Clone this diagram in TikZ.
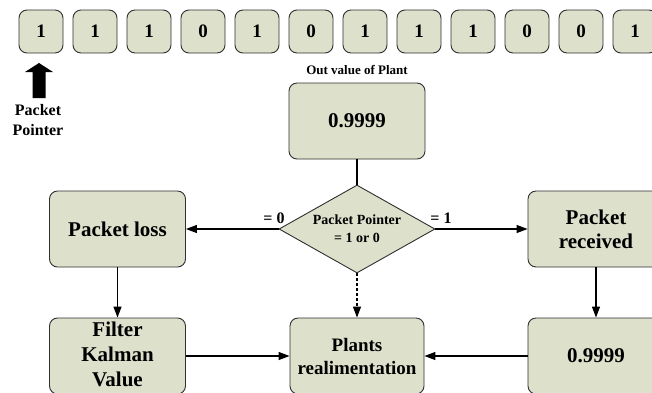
\documentclass[tikz,border=0pt]{standalone}
\usepackage{fontspec}
\setmainfont{Liberation Serif}
\usetikzlibrary{shapes.geometric,arrows.meta}
\definecolor{boxfill}{HTML}{DDE0CB}
\definecolor{boxline}{HTML}{303030}
\tikzset{
  box/.style={draw=boxline, fill=boxfill, rounded corners=8pt, line width=0.9pt,
    minimum width=136pt, minimum height=76pt, inner sep=0pt, align=center,
    font=\fontsize{21}{24}\selectfont\bfseries},
  bit/.style={draw=boxline, fill=boxfill, rounded corners=8pt, line width=0.9pt,
    minimum width=44pt, minimum height=43pt, inner sep=0pt,
    font=\fontsize{19}{22}\selectfont\bfseries},
  dec/.style={draw=boxline, fill=boxfill, diamond, aspect=1.77, line width=0.9pt,
    minimum width=156pt, minimum height=88pt, inner sep=0pt, align=center,
    font=\fontsize{14}{17}\selectfont\bfseries},
  lbl/.style={inner sep=0pt, font=\fontsize{16}{19}\selectfont\bfseries},
  arr/.style={-{Triangle[length=11pt,width=8pt]}, line width=1.2pt},
}
\begin{document}
\begin{tikzpicture}[x=1pt,y=-1pt]
\clip (0,0) rectangle (652,392);
\useasboundingbox (0,0) rectangle (652,392);
\fill[white] (0,0) rectangle (652,392);
% bit row
\foreach \v [count=\i from 0] in {1,1,1,0,1,0,1,1,1,0,0,1} {
  \node[bit] (b\i) at (41+54*\i,31.5) {\v};
}
% pointer arrow
\fill[black] (32.5,98) -- (32.5,72) -- (25,72) -- (39,63) -- (53,72) -- (45.5,72) -- (45.5,98) -- cycle;
\node[lbl, align=center, font=\fontsize{16}{20}\selectfont\bfseries] (pp) at (38,120) {Packet\\Pointer};
% main nodes
\node[font=\fontsize{13}{15}\selectfont\bfseries, inner sep=0pt] (outlbl) at (357,70) {Out value of Plant};
\node[box] (top) at (357,121) {0.9999};
\node[dec] (dec) at (357,229) {Packet Pointer\\[1pt]= 1 or 0};
\node[box] (loss) at (117.5,229) {Packet loss};
\node[box] (recv) at (596,229) {Packet\\received};
\node[box] (kal) at (117.5,356) {};
\node[align=center, inner sep=0pt, font=\fontsize{21}{25}\selectfont\bfseries] (kaltext) at (117.5,354.5) {Filter\\Kalman\\Value};
\node[box, minimum width=134pt, font=\fontsize{19}{23}\selectfont\bfseries] (plant) at (357,356) {Plants\\realimentation};
\node[box] (res) at (596,356) {0.9999};
% labels
\node[lbl] (l0) at (274,218) {= 0};
\node[lbl] (l1) at (441,218) {= 1};
% connectors
\draw[line width=1.2pt] (top) -- (dec.north);
\draw[arr] (dec.west) -- (loss.east);
\draw[arr] (dec.east) -- (recv.west);
\draw[arr] (loss) -- (kal);
\draw[arr] (recv) -- (res);
\draw[arr] (kal) -- (plant);
\draw[arr] (res) -- (plant);
\draw[arr, dash pattern=on 3pt off 2pt] (dec.south) -- (plant.north);
\end{tikzpicture}
\end{document}
